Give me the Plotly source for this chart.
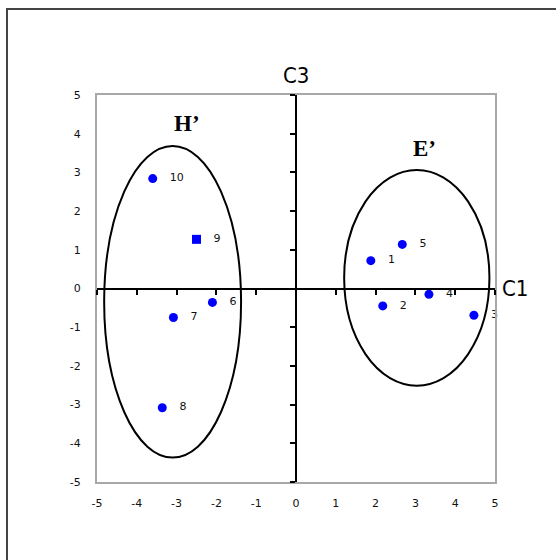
import plotly.graph_objects as go

# point scores on the two components
labels = ["1", "2", "3", "4", "5", "6", "7", "8", "9", "10"]
c1 = [1.88, 2.18, 4.47, 3.34, 2.67, -2.10, -3.08, -3.36, -2.50, -3.60]
c3 = [0.72, -0.45, -0.69, -0.15, 1.14, -0.36, -0.75, -3.08, 1.27, 2.84]
symbols = ["circle"] * 8 + ["square", "circle"]

ticks = [-5, -4, -3, -2, -1, 0, 1, 2, 3, 4, 5]
tick_text = ["-5", "-4", "-3", "-2", "-1", "0", "1", "2", "3", "4", "5"]

# cluster ellipses (x0, x1, y0, y1) and their names
groups = ["H’", "E’"]
group_box = [(-4.82, -1.38, -4.37, 3.68), (1.21, 4.86, -2.51, 3.06)]
group_lab_x = [-2.75, 3.24]
group_lab_y = [4.26, 3.62]

W, H = 556, 560
L, R, T, B = 97, 61, 95, 78
pw, ph = W - L - R, H - T - B

narrow = "DejaVu Sans Condensed, Liberation Sans Narrow, Arial Narrow, DejaVu Sans"
small = dict(family="DejaVu Sans, Arial", size=11, color="#111111")

fig = go.Figure()
fig.add_trace(go.Scatter(
    x=c1, y=c3, mode="markers+text",
    text=["   " + t for t in labels], textposition="middle right",
    textfont=small,
    marker=dict(color="#0000ff", size=9, symbol=symbols),
    cliponaxis=False, showlegend=False, hoverinfo="skip"))
# empty trace so the centred axes get drawn
fig.add_trace(go.Scatter(x=[0], y=[0], xaxis="x2", yaxis="y2", mode="markers",
                         marker=dict(opacity=0), showlegend=False, hoverinfo="skip"))

for (x0, x1, y0, y1) in group_box:
    fig.add_shape(type="circle", xref="x", yref="y", x0=x0, x1=x1, y0=y0, y1=y1,
                  line=dict(color="black", width=2))

for g, gx, gy in zip(groups, group_lab_x, group_lab_y):
    fig.add_annotation(x=gx, y=gy, text="<b>" + g + "</b>", showarrow=False,
                       font=dict(family="Liberation Serif, Times New Roman", size=23, color="black"))

fig.add_annotation(x=0, y=1, xref="x", yref="paper", yshift=20, yanchor="middle", xanchor="center",
                   text="C3", showarrow=False, font=dict(family=narrow, size=22, color="black"))
fig.add_annotation(x=1, y=0, xref="paper", yref="y", xshift=20, yanchor="middle", xanchor="center",
                   text="C1", showarrow=False, font=dict(family=narrow, size=22, color="black"))

# outer frame (only top and left edges fall inside the picture)
fig.add_shape(type="rect", xref="paper", yref="paper",
              x0=(7 - L) / pw, x1=1.3, y0=-0.4, y1=(H - B - 9) / ph,
              line=dict(color="#444444", width=2), layer="below")

frame = dict(range=[-5, 5], tickvals=ticks, ticktext=tick_text, showgrid=False, zeroline=False,
             showline=True, mirror=True, linecolor="#a8a8a8", linewidth=2,
             ticks="outside", tickcolor="rgba(0,0,0,0)", tickfont=small)
centre = dict(range=[-5, 5], tickvals=ticks, showgrid=False, zeroline=False,
              showline=True, linecolor="black", linewidth=2, ticks="outside", ticklen=5,
              tickwidth=2, tickcolor="black", showticklabels=False, anchor="free", position=0.5)

fig.update_layout(
    width=W, height=H, margin=dict(l=L, r=R, t=T, b=B),
    paper_bgcolor="white", plot_bgcolor="white",
    xaxis=dict(frame, ticklen=10),
    yaxis=dict(frame, ticklen=12),
    xaxis2=dict(centre, overlaying="x"),
    yaxis2=dict(centre, overlaying="y"),
)

# drop the page's default body margin so the figure sits at the window corner
fig.write_html("out.html", config={"displayModeBar": False},
               post_script="document.body.style.margin='0px';")
